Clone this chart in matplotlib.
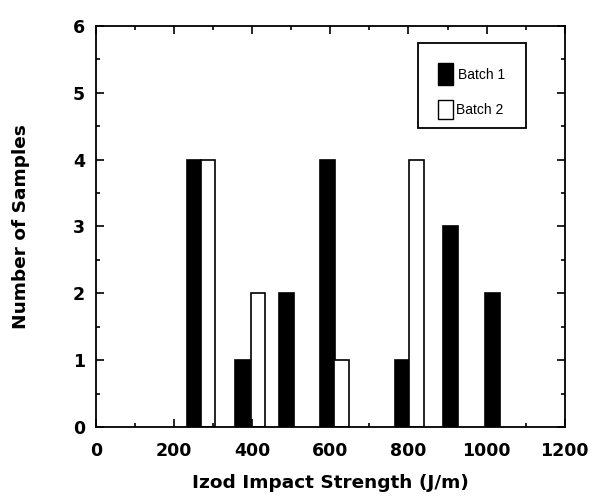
import matplotlib
matplotlib.use("Agg")
import matplotlib.pyplot as plt
from matplotlib.ticker import MultipleLocator
from matplotlib.patches import Rectangle

plt.rcParams['font.family'] = ['DejaVu Sans']

series_labels = ['Batch 1', 'Batch 2']
batch1_x = [251, 375, 487, 592, 785, 907, 1016]
batch1_counts = [4, 1, 2, 4, 1, 3, 2]
batch2_x = [287, 415, 629, 821]
batch2_counts = [4, 2, 1, 4]
bar_width = 38
x_ticks = [0, 200, 400, 600, 800, 1000, 1200]
y_ticks = [0, 1, 2, 3, 4, 5, 6]

fig = plt.figure(figsize=(5.92, 4.98), dpi=100)
ax = fig.add_axes([0.162, 0.1426, 0.792, 0.8054])

ax.bar(batch1_x, batch1_counts, width=bar_width, color='black', edgecolor='black', linewidth=1.2, label=series_labels[0])
ax.bar(batch2_x, batch2_counts, width=bar_width, color='white', edgecolor='black', linewidth=1.2, label=series_labels[1])

ax.set_xlim(0, 1200)
ax.set_ylim(0, 6)
ax.set_xticks(x_ticks)
ax.set_yticks(y_ticks)
ax.xaxis.set_minor_locator(MultipleLocator(100))
ax.yaxis.set_minor_locator(MultipleLocator(0.5))
ax.tick_params(which='both', direction='in', top=True, right=True, width=1.2)
ax.tick_params(which='major', length=6, labelsize=12.5)
ax.tick_params(axis='y', which='major', pad=8)
ax.tick_params(axis='x', which='major', pad=11)
ax.tick_params(which='minor', length=3)
for lab in ax.get_xticklabels() + ax.get_yticklabels():
    lab.set_fontweight('bold')
for s in ax.spines.values():
    s.set_linewidth(1.3)

ax.set_xlabel('Izod Impact Strength (J/m)', fontsize=13.3, fontweight='bold', labelpad=10)
ax.set_ylabel('Number of Samples', fontsize=13.3, fontweight='bold', labelpad=31)

# legend box drawn by hand to match the boxed key of the original
T = ax.transAxes
ax.add_patch(Rectangle((0.686, 0.745), 0.232, 0.212, transform=T, facecolor='white',
                       edgecolor='black', linewidth=1.3, zorder=5))
ax.add_patch(Rectangle((0.729, 0.853), 0.032, 0.054, transform=T, facecolor='black',
                       edgecolor='black', linewidth=1.0, zorder=6))
ax.add_patch(Rectangle((0.729, 0.768), 0.032, 0.047, transform=T, facecolor='white',
                       edgecolor='black', linewidth=1.0, zorder=6))
ax.text(0.772, 0.878, series_labels[0], transform=T, ha='left', va='center',
        fontsize=10, family='Liberation Sans', zorder=7)
ax.text(0.768, 0.790, series_labels[1], transform=T, ha='left', va='center',
        fontsize=10, family='Liberation Sans', zorder=7)

fig.savefig('out.png', dpi=100)
